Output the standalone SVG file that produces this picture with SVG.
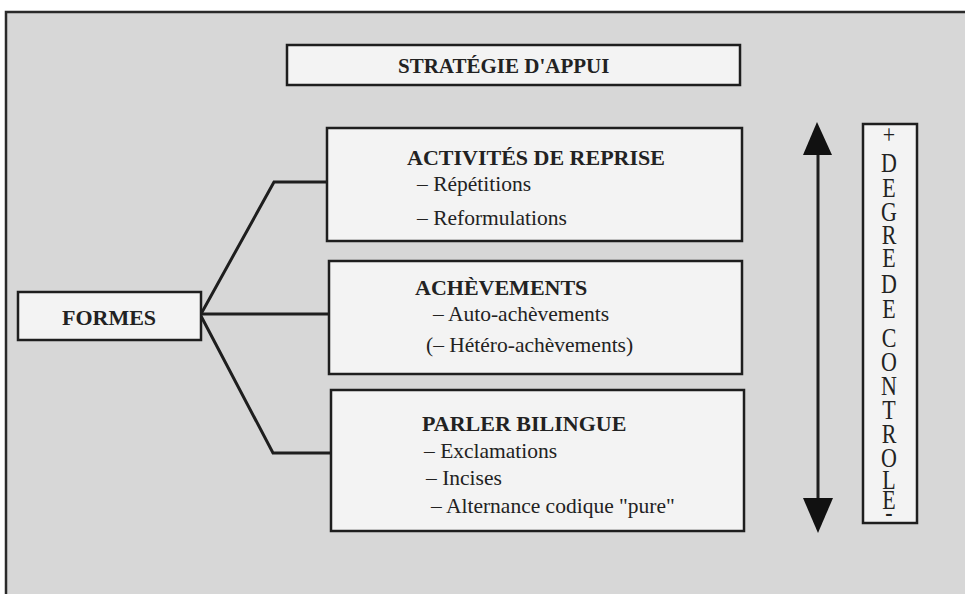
<svg xmlns="http://www.w3.org/2000/svg" width="965" height="594" viewBox="0 0 965 594">
  <style>
    .box { fill: #f3f3f3; stroke: #1e1e1e; stroke-width: 2.5; }
    .title { font-family: "Liberation Serif", "Times New Roman", serif; font-weight: bold; font-size: 22px; fill: #222; }
    .item { font-family: "Liberation Serif", "Times New Roman", serif; font-size: 21.5px; fill: #222; }
    .v { font-family: "Liberation Serif", "Times New Roman", serif; font-size: 22px; fill: #222; text-anchor: middle; }
    .conn { fill: none; stroke: #1e1e1e; stroke-width: 3; stroke-linejoin: miter; }
  </style>
  <rect x="0" y="0" width="965" height="594" fill="#ffffff"/>
  <rect id="frame" x="6" y="12" width="1000" height="700" fill="#d7d7d7" stroke="#2a2a2a" stroke-width="2.5"/>

  <g id="strategie">
    <rect class="box" x="287" y="45" width="453" height="40"/>
    <text class="title" x="398" y="73" style="font-size:21px">STRATÉGIE D'APPUI</text>
  </g>

  <g id="connectors">
    <polyline class="conn" points="201,314 274,182 328,182"/>
    <polyline class="conn" points="201,314 329,314"/>
    <polyline class="conn" points="201,316 273,453 331,453"/>
    <line x1="818" y1="150" x2="818" y2="502" stroke="#1e1e1e" stroke-width="3"/>
    <polygon points="817,122 803,155 832,155" fill="#111"/>
    <polygon points="803,498 833,498 818,533" fill="#111"/>
  </g>

  <g id="formes">
    <rect class="box" x="18" y="292" width="183" height="48"/>
    <text class="title" x="109" y="325" text-anchor="middle">FORMES</text>
  </g>

  <g id="activites">
    <rect class="box" x="327" y="128" width="415" height="113"/>
    <text class="title" x="407" y="165">ACTIVITÉS DE REPRISE</text>
    <text class="item" x="417" y="191">– Répétitions</text>
    <text class="item" x="417" y="225">– Reformulations</text>
  </g>

  <g id="achevements">
    <rect class="box" x="329" y="261" width="413" height="113"/>
    <text class="title" x="415" y="295">ACHÈVEMENTS</text>
    <text class="item" x="433" y="321">– Auto-achèvements</text>
    <text class="item" x="426" y="352">(– Hétéro-achèvements)</text>
  </g>

  <g id="parler">
    <rect class="box" x="331" y="390" width="413" height="141"/>
    <text class="title" x="422" y="431">PARLER BILINGUE</text>
    <text class="item" x="424" y="458">– Exclamations</text>
    <text class="item" x="426" y="485">– Incises</text>
    <text class="item" x="431" y="513">– Alternance codique  "pure"</text>
  </g>

  <g id="degre">
    <rect class="box" x="863" y="124" width="54" height="399"/>
    <text class="v" transform="scale(1,1.2)"><tspan x="889" y="120">+</tspan><tspan x="889" y="143.3">D</tspan><tspan x="889" y="164.2">E</tspan><tspan x="889" y="184.2">G</tspan><tspan x="889" y="203.3">R</tspan><tspan x="889" y="222.5">E</tspan><tspan x="889" y="244.2">D</tspan><tspan x="889" y="265">E</tspan><tspan x="889" y="289.2">C</tspan><tspan x="889" y="309.2">O</tspan><tspan x="889" y="329.2">N</tspan><tspan x="889" y="349.2">T</tspan><tspan x="889" y="369.2">R</tspan><tspan x="889" y="389.2">O</tspan><tspan x="889" y="407.5">L</tspan><tspan x="889" y="424.2">E</tspan><tspan x="889" y="434">-</tspan></text>
  </g>
</svg>
